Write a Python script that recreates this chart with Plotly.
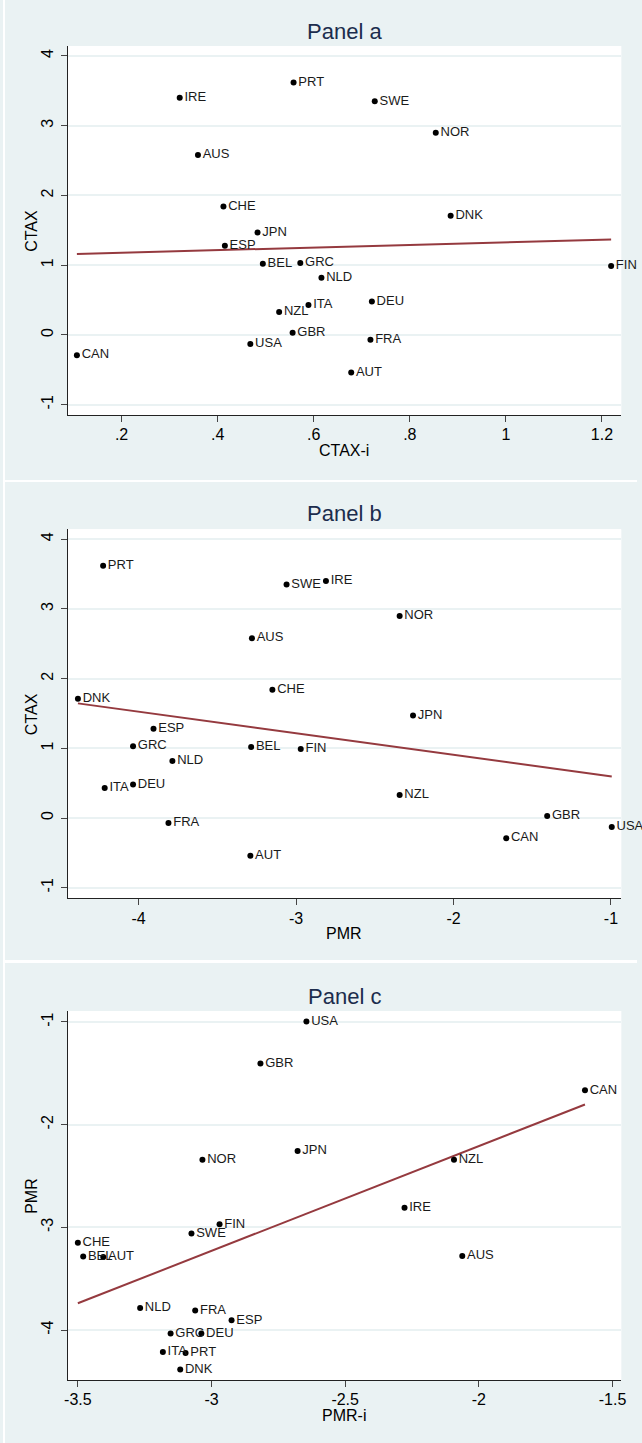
import numpy as np
import plotly.graph_objects as go

# ---------------- data ----------------
countries = ["AUS", "AUT", "BEL", "CAN", "CHE", "DEU", "DNK", "ESP", "FIN", "FRA", "GBR",
             "GRC", "IRE", "ITA", "JPN", "NLD", "NOR", "NZL", "PRT", "SWE", "USA"]
ctax = [2.58, -0.54, 1.02, -0.29, 1.84, 0.48, 1.71, 1.28, 0.99, -0.07, 0.03,
        1.03, 3.40, 0.43, 1.47, 0.82, 2.90, 0.33, 3.62, 3.35, -0.13]
ctax_i = [0.359, 0.678, 0.494, 0.107, 0.412, 0.721, 0.885, 0.415, 1.219, 0.718, 0.556,
          0.572, 0.321, 0.589, 0.483, 0.616, 0.854, 0.528, 0.558, 0.727, 0.468]
pmr = [-3.28, -3.29, -3.285, -1.665, -3.15, -4.035, -4.385, -3.905, -2.97, -3.81, -1.405,
       -4.035, -2.81, -4.215, -2.257, -3.785, -2.342, -2.342, -4.225, -3.06, -0.995]
pmr_i = [-2.062, -3.405, -3.48, -1.603, -3.50, -3.038, -3.117, -2.925, -2.97, -3.061, -2.817,
         -3.153, -2.278, -3.182, -2.678, -3.267, -3.034, -2.093, -3.097, -3.075, -2.645]

panel_titles = ["Panel a", "Panel b", "Panel c"]
x_titles = ["CTAX-i", "PMR", "PMR-i"]
y_titles = ["CTAX", "CTAX", "PMR"]

xa_tickvals = [0.2, 0.4, 0.6, 0.8, 1.0, 1.2]
xa_ticktext = [".2", ".4", ".6", ".8", "1", "1.2"]
ya_tickvals = [-1, 0, 1, 2, 3, 4]
ya_ticktext = ["-1", "0", "1", "2", "3", "4"]
xb_tickvals = [-4, -3, -2, -1]
xb_ticktext = ["-4", "-3", "-2", "-1"]
xc_tickvals = [-3.5, -3, -2.5, -2, -1.5]
xc_ticktext = ["-3.5", "-3", "-2.5", "-2", "-1.5"]
yc_tickvals = [-4, -3, -2, -1]
yc_ticktext = ["-4", "-3", "-2", "-1"]

# ---------------- layout geometry ----------------
W, H = 642, 1443
BG = "#EAF2F3"
FONT = "Liberation Sans, Arial, sans-serif"
TITLE_C = "#1c2d4d"
LINE_C = "#953a3f"


def px_x(p):
    return p / W


def px_y(p):
    return 1 - p / H


plot_left, plot_right = 65.5, 626
panels = [
    dict(x=ctax_i, y=ctax, top=46, bottom=415, title_y=31, xt_y=450,
         xrange=[0.0878, 1.240], yrange=[-1.148, 4.143],
         xtv=xa_tickvals, xtt=xa_ticktext, ytv=ya_tickvals, ytt=ya_ticktext),
    dict(x=pmr, y=ctax, top=529.3, bottom=898.3, title_y=513, xt_y=933,
         xrange=[-4.45, -0.935], yrange=[-1.152, 4.1435],
         xtv=xb_tickvals, xtt=xb_ticktext, ytv=ya_tickvals, ytt=ya_ticktext),
    dict(x=pmr_i, y=pmr, top=1011, bottom=1380, title_y=996, xt_y=1415,
         xrange=[-3.538, -1.4675], yrange=[-4.487, -0.893],
         xtv=xc_tickvals, xtt=xc_ticktext, ytv=yc_tickvals, ytt=yc_ticktext),
]

fig = go.Figure()
annotations = []
shapes = []

for i, p in enumerate(panels):
    n = "" if i == 0 else str(i + 1)
    xref, yref = "x" + n, "y" + n
    xs = np.array(p["x"], dtype=float)
    ys = np.array(p["y"], dtype=float)
    slope, icpt = np.polyfit(xs, ys, 1)
    lx = np.array([xs.min(), xs.max()])
    fig.add_trace(go.Scatter(
        x=lx, y=icpt + slope * lx, mode="lines", xaxis=xref, yaxis=yref,
        line=dict(color=LINE_C, width=2), hoverinfo="skip", showlegend=False))
    fig.add_trace(go.Scatter(
        x=xs, y=ys, mode="markers+text", text=countries, textposition="middle right",
        textfont=dict(family=FONT, size=13, color="#1a1a1a"),
        marker=dict(color="black", size=6), xaxis=xref, yaxis=yref,
        cliponaxis=False, showlegend=False))

    dom_y = [px_y(p["bottom"]), px_y(p["top"])]
    axis_common = dict(
        showline=True, linecolor="#222222", linewidth=1, ticks="outside", ticklen=6,
        tickcolor="#444444", tickwidth=1, zeroline=False,
        tickfont=dict(family=FONT, size=16, color="black"), tickmode="array")
    fig.layout["xaxis" + n] = dict(
        domain=[px_x(plot_left), px_x(plot_right)], range=p["xrange"], anchor=yref,
        showgrid=False, tickvals=p["xtv"], ticktext=p["xtt"], ticklabelstandoff=-1,
        **axis_common)
    fig.layout["yaxis" + n] = dict(
        domain=dom_y, range=p["yrange"], anchor=xref, showgrid=True,
        gridcolor=BG, gridwidth=2, tickvals=p["ytv"], ticktext=p["ytt"],
        tickangle=-90, ticklabelstandoff=1, **axis_common)

    cx = px_x((plot_left + plot_right) / 2)
    annotations.append(dict(
        text=panel_titles[i], x=cx, y=px_y(p["title_y"]), xref="paper", yref="paper",
        showarrow=False, xanchor="center", yanchor="middle",
        font=dict(family=FONT, size=22, color=TITLE_C)))
    annotations.append(dict(
        text=x_titles[i], x=cx, y=px_y(p["xt_y"]), xref="paper", yref="paper",
        showarrow=False, xanchor="center", yanchor="middle",
        font=dict(family=FONT, size=16, color="black")))
    annotations.append(dict(
        text=y_titles[i], x=px_x(28.7), y=px_y((p["top"] + p["bottom"]) / 2),
        xref="paper", yref="paper", showarrow=False, textangle=-90,
        xanchor="center", yanchor="middle",
        font=dict(family=FONT, size=16, color="black")))
    # white plot region
    shapes.append(dict(type="rect", xref="paper", yref="paper",
                       x0=px_x(plot_left), x1=px_x(plot_right), y0=dom_y[0], y1=dom_y[1],
                       fillcolor="white", line=dict(width=0), layer="below"))

# white separators between the three stacked graphs, and left edge strip
for y0, y1 in [(480, 482), (960, 963)]:
    shapes.append(dict(type="rect", xref="paper", yref="paper", x0=0, x1=1,
                       y0=px_y(y1), y1=px_y(y0), fillcolor="white", line=dict(width=0),
                       layer="above"))
shapes.append(dict(type="rect", xref="paper", yref="paper", x0=0, x1=px_x(2),
                   y0=0, y1=1, fillcolor="white", line=dict(width=0), layer="above"))

fig.update_layout(
    width=W, height=H, margin=dict(l=0, r=0, t=0, b=0, pad=0),
    paper_bgcolor=BG, plot_bgcolor="white", showlegend=False,
    annotations=annotations, shapes=shapes, font=dict(family=FONT),
)

fig.write_html("out.html", config={"displayModeBar": False})
